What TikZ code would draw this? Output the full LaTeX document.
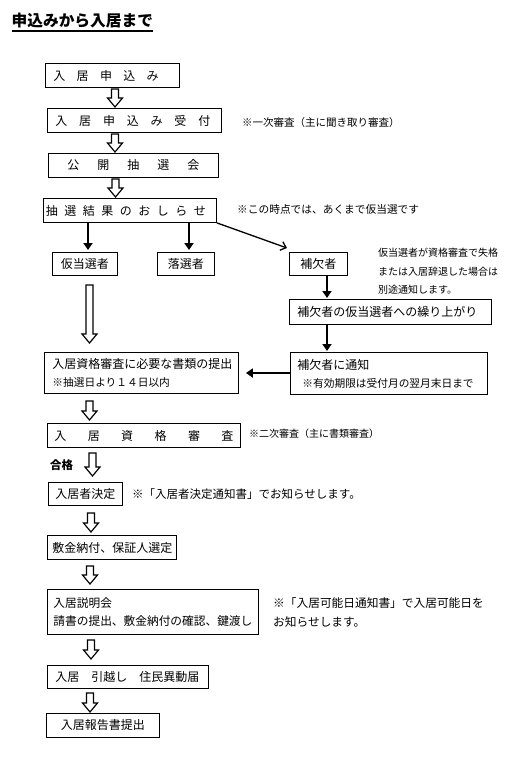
\documentclass[tikz,border=0pt]{standalone}
\usepackage{fontspec}
\newfontfamily\jp{Noto Sans CJK JP}
\usetikzlibrary{arrows.meta,calc}
\newcommand{\hollowarrow}[5]{%
  \coordinate (hT) at ($(#2.south -| #1,0)+(0,#4)$);
  \coordinate (hB) at ($(#3.north -| #1,0)-(0,#5)$);
  \draw[hollow] ($(hT)+(-3.5,0)$) -- ($(hB)+(-3.5,-9)$) -- ($(hB)+(-7.5,-9)$) -- (hB) -- ($(hB)+(7.5,-9)$) -- ($(hB)+(3.5,-9)$) -- ($(hT)+(3.5,0)$) -- cycle;
}
\tikzset{
  box/.style={draw, line width=0.9pt, anchor=north west, inner ysep=0pt, font=\jp\fontsize{12}{18}\selectfont},
  note/.style={anchor=west, inner sep=0pt, align=left},
  hollow/.style={draw, line width=1.2pt, fill=white, line join=miter},
  sarrow/.style={line width=2.4pt, -{Triangle[length=7pt,width=9pt]}},
  darrow/.style={line width=1.3pt, -{Straight Barb[length=5pt,width=9pt]}},
}
\begin{document}
\begin{tikzpicture}[x=1pt,y=-1pt]
\fill[white] (0,0) rectangle (529,766);
\useasboundingbox (0,0) rectangle (529,766);

% title
\node[anchor=west, inner sep=0pt, font=\jp\bfseries\fontsize{15.7}{18}\selectfont] (title) at (11.5,21) {申込みから入居まで};
\draw[line width=1.3pt] ($(title.west)+(0,10)$) -- ($(title.east)+(0,10)$);

% boxes
\node[box, text width=118pt, inner xsep=8pt, minimum height=24pt, align=left] (b1) at (45,63)
  {入\hspace{11.3pt}居\hspace{11.3pt}申\hspace{11.3pt}込\hspace{11.3pt}み};
\node[box, text width=158pt, inner xsep=8pt, minimum height=24pt, align=left] (b2) at (47,108)
  {入\hspace{11.8pt}居\hspace{11.8pt}申\hspace{11.8pt}込\hspace{11.8pt}み\hspace{11.8pt}受\hspace{11.8pt}付};
\node[box, text width=162pt, inner xsep=4pt, minimum height=24pt, align=center] (b3) at (48,153)
  {公\hspace{18pt}開\hspace{18pt}抽\hspace{18pt}選\hspace{18pt}会};
\node[box, text width=168pt, inner xsep=2.5pt, minimum height=24pt, align=left] (b4) at (43,198)
  {抽\hspace{6.5pt}選\hspace{6.5pt}結\hspace{6.5pt}果\hspace{6.5pt}の\hspace{6.5pt}お\hspace{6.5pt}し\hspace{6.5pt}ら\hspace{6.5pt}せ};

\node[box, text width=59pt, inner xsep=3pt, minimum height=23pt, align=center] (k0) at (52,252) {仮当選者};
\node[box, text width=51pt, inner xsep=3pt, minimum height=23pt, align=center] (r) at (157,252) {落選者};
\node[box, text width=52pt, inner xsep=3pt, minimum height=23pt, align=center] (k1) at (289,252) {補欠者};
\node[box, text width=186pt, inner xsep=8pt, minimum height=25pt, align=left] (k2) at (289,299) {補欠者の仮当選者への繰り上がり};
\node[box, text width=183pt, inner xsep=7pt, minimum height=42pt, align=left] (k3) at (290,352)
  {補欠者に通知\\{\fontsize{10.7}{18}\selectfont\hspace*{5pt}※有効期限は受付月の翌月末日まで}};
\node[box, text width=178pt, inner xsep=8pt, minimum height=41pt, align=left] (d) at (44,352)
  {入居資格審査に必要な書類の提出\\{\fontsize{10.7}{18}\selectfont ※抽選日より１４日以内}};
\node[box, text width=185pt, inner xsep=4pt, minimum height=24pt, align=center] (s) at (47,423)
  {入\hspace{21.4pt}居\hspace{21.4pt}資\hspace{21.4pt}格\hspace{21.4pt}審\hspace{21.4pt}査};
\node[box, text width=68pt, inner xsep=3pt, minimum height=23pt, align=center] (e) at (48,482) {入居者決定};
\node[box, text width=119pt, inner xsep=5pt, minimum height=24pt, align=left] (f) at (47,535) {敷金納付、保証人選定};
\node[box, text width=199pt, inner xsep=6pt, minimum height=45pt, align=left, font=\jp\fontsize{11.7}{18.5}\selectfont] (g) at (47,589)
  {入居説明会\\請書の提出、敷金納付の確認、鍵渡し};
\node[box, text width=145pt, inner xsep=8pt, minimum height=23pt, align=left] (h) at (47,665) {入居　引越し　住民異動届};
\node[box, text width=107pt, inner xsep=3pt, minimum height=24pt, align=center] (i) at (46,713) {入居報告書提出};

% notes
\node[note, font=\jp\fontsize{10.5}{18}\selectfont] (n1) at (242,123) {※一次審査（主に聞き取り審査）};
\node[note, font=\jp\fontsize{10.7}{18}\selectfont] (n2) at (237,209) {※この時点では、あくまで仮当選です};
\node[note, font=\jp\fontsize{10}{18.5}\selectfont] (n3) at (378,271.5) {仮当選者が資格審査で失格\\または入居辞退した場合は\\別途通知します。};
\node[note, font=\jp\fontsize{10}{18}\selectfont] (n4) at (249,434) {※二次審査（主に書類審査）};
\node[note, font=\jp\fontsize{11.5}{18}\selectfont] (n5) at (132,494) {※「入居者決定通知書」でお知らせします。};
\node[note, font=\jp\fontsize{11.7}{19}\selectfont] (n6) at (273,612.5) {※「入居可能日通知書」で入居可能日を\\お知らせします。};
\node[note, font=\jp\bfseries\fontsize{11.5}{14}\selectfont] (pass) at (50,465) {合格};

% hollow arrows
\hollowarrow{115}{b1}{b2}{1}{1}
\hollowarrow{115}{b2}{b3}{1}{1}
\hollowarrow{115.5}{b3}{b4}{1}{1}
\hollowarrow{89.5}{k0}{d}{9}{9}
\hollowarrow{89.5}{d}{s}{7}{3}
\hollowarrow{92.5}{s}{e}{5}{6}
\hollowarrow{91}{e}{f}{7}{3}
\hollowarrow{90}{f}{g}{6}{5}
\hollowarrow{91}{g}{h}{5}{6}
\hollowarrow{90}{h}{i}{4}{1}

% solid arrows
\draw[sarrow] (b4.south -| 88,0) -- ($(k0.north -| 88,0)-(0,2)$);
\draw[sarrow] (b4.south -| 189,0) -- ($(r.north -| 189,0)-(0,2)$);
\draw[darrow] (b4.south east) -- ($(k1.north west)+(-2,-4)$);
\draw[sarrow] (k1.south -| 327,0) -- ($(k2.north -| 327,0)-(0,1)$);
\draw[sarrow] (k2.south -| 327,0) -- ($(k3.north -| 327,0)-(0,1)$);
\draw[sarrow] (k3.west |- 0,373) -- ($(d.east |- 0,373)+(7,0)$);
\end{tikzpicture}
\end{document}
